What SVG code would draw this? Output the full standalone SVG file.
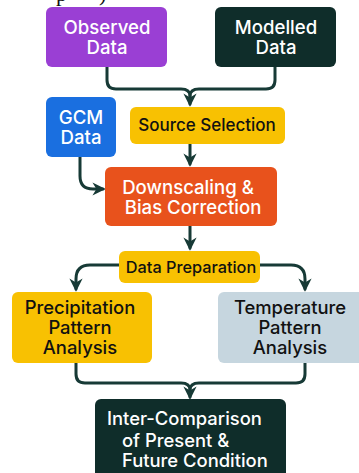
<svg xmlns="http://www.w3.org/2000/svg" width="359" height="473" viewBox="0 0 359 473">
<style>
.t{font-family:Inter,"Noto Sans","Liberation Sans",sans-serif;font-weight:500;text-anchor:middle}
.w{fill:#ffffff}
.k{fill:#111111}
.c{fill:none;stroke:#173a36;stroke-width:3;stroke-linecap:round;stroke-linejoin:round}
</style>
<defs>
<marker id="ah" viewBox="0 0 10 10" refX="8" refY="5" markerWidth="4.4" markerHeight="4.4" orient="auto" markerUnits="strokeWidth">
<path d="M0,0 L10,5 L0,10 L3,5 Z" fill="#173a36"/>
</marker>
</defs>
<rect width="359" height="473" fill="#ffffff"/>
<text x="56" y="1" font-family="Liberation Serif,serif" font-size="22" fill="#111">p</text>
<text x="99" y="1" font-family="Liberation Serif,serif" font-size="22" fill="#111">)</text>
<g id="connectors">
<path class="c" d="M107,67 V80 Q107,89 116,89 H181 Q190,89 190,96 V104" marker-end="url(#ah)"/>
<path class="c" d="M275,67 V80 Q275,89 266,89 H199 Q190,89 190,96"/>
<path class="c" d="M190,144 V164" marker-end="url(#ah)"/>
<path class="c" d="M80,157 V176 Q80,189 93,189 H103" marker-end="url(#ah)"/>
<path class="c" d="M190,226 V248" marker-end="url(#ah)"/>
<path class="c" d="M119,265 H90 Q76,265 76,279 V289" marker-end="url(#ah)"/>
<path class="c" d="M260,265 H291 Q305,265 305,279 V289" marker-end="url(#ah)"/>
<path class="c" d="M76,363 V374 Q76,383 85,383 H181 Q190,383 190,390 V397" marker-end="url(#ah)"/>
<path class="c" d="M305,363 V374 Q305,383 296,383 H199 Q190,383 190,390"/>
</g>
<g id="observed">
<rect x="46" y="7" width="121" height="60" rx="6" fill="#9a3fd4"/>
<text class="t w" x="107" y="34" font-size="18.6">Observed</text>
<text class="t w" x="107" y="54" font-size="18.6">Data</text>
</g>
<g id="modelled">
<rect x="215" y="7" width="121" height="60" rx="6" fill="#0f2d2a"/>
<text class="t w" x="276" y="34" font-size="18.6">Modelled</text>
<text class="t w" x="276" y="54" font-size="18.6">Data</text>
</g>
<g id="gcm">
<rect x="46" y="97" width="70" height="60" rx="6" fill="#1a6fe0"/>
<text class="t w" x="81" y="124" font-size="18.6">GCM</text>
<text class="t w" x="81" y="144" font-size="18.6">Data</text>
</g>
<g id="source">
<rect x="130" y="107" width="155" height="37" rx="6" fill="#f8c102"/>
<text class="t k" x="207" y="131" font-size="17">Source Selection</text>
</g>
<g id="downscaling">
<rect x="105" y="167" width="172" height="59" rx="6" fill="#e8521c"/>
<text class="t w" x="188" y="194" font-size="18.6">Downscaling &amp;</text>
<text class="t w" x="193" y="214" font-size="18.6">Bias Correction</text>
</g>
<g id="dataprep">
<rect x="119" y="251" width="141" height="32" rx="6" fill="#f8c102"/>
<text class="t k" x="191" y="273" font-size="16.3">Data Preparation</text>
</g>
<g id="precip">
<rect x="12" y="292" width="140" height="71" rx="6" fill="#f8c102"/>
<text class="t k" x="80" y="314" font-size="18.4">Precipitation</text>
<text class="t k" x="80" y="334" font-size="18.4">Pattern</text>
<text class="t k" x="80" y="354" font-size="18.4">Analysis</text>
</g>
<g id="temp">
<rect x="218" y="292" width="146" height="71" rx="6" fill="#c6d6df"/>
<text class="t k" x="290" y="314" font-size="18.4">Temperature</text>
<text class="t k" x="290" y="334" font-size="18.4">Pattern</text>
<text class="t k" x="290" y="354" font-size="18.4">Analysis</text>
</g>
<g id="intercomparison">
<rect x="95" y="399" width="191" height="84" rx="6" fill="#0f2d2a"/>
<text class="t w" x="107" y="425" font-size="18.4" style="text-anchor:start">Inter-Comparison</text>
<text class="t w" x="122" y="447" font-size="18.4" style="text-anchor:start">of Present &amp;</text>
<text class="t w" x="122" y="467" font-size="18.4" style="text-anchor:start">Future Condition</text>
</g>
</svg>
